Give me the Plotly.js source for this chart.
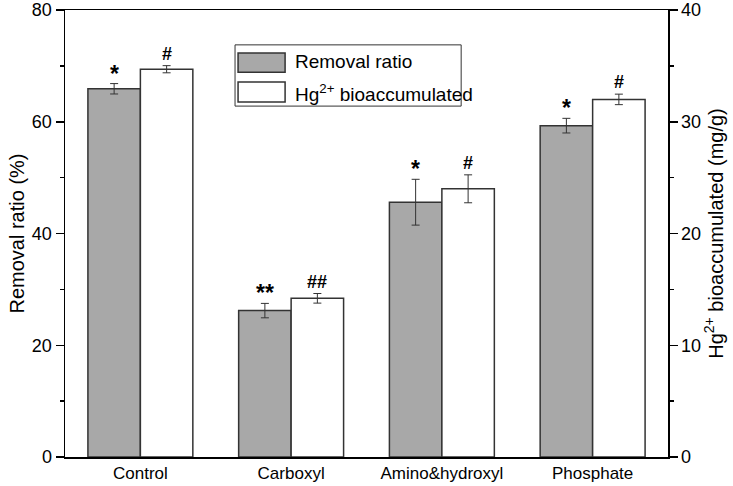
<!DOCTYPE html>
<html>
<head>
<meta charset="utf-8">
<script src="https://cdn.plot.ly/plotly-3.0.1.min.js"></script>
<style>html,body{margin:0;padding:0;background:#fff;}#chart{width:733px;height:486px;}</style>
</head>
<body>
<div id="chart"></div>
<script>
const categories = ['Control', 'Carboxyl', 'Amino&hydroxyl', 'Phosphate'];
const removalRatio = [65.9, 26.2, 45.6, 59.3];
const removalErr = [0.93, 1.29, 4.1, 1.31];
const hgBioacc = [34.7, 14.2, 24.0, 32.0];
const hgErr = [0.32, 0.43, 1.25, 0.47];
const removalSig = ['*', '**', '*', '*'];
const hgSig = ['#', '##', '#', '#'];
const seriesNames = ['Removal ratio', 'Hg<sup>2+</sup> bioaccumulated'];

const FONT = 'Liberation Sans, Arial, sans-serif';
const BW = 0.348;
const edge = {color: '#333', width: 1.5};

const traces = [
  {type: 'bar', x: categories, y: removalRatio, name: seriesNames[0], yaxis: 'y',
   width: BW, offset: -BW, marker: {color: '#a8a8a8', line: edge},
   error_y: {type: 'data', array: removalErr, visible: true, color: '#333', thickness: 1, width: 4}},
  {type: 'bar', x: categories, y: hgBioacc, name: seriesNames[1], yaxis: 'y2',
   width: BW, offset: 0, marker: {color: '#ffffff', line: edge},
   error_y: {type: 'data', array: hgErr, visible: true, color: '#333', thickness: 1, width: 4}}
];

const annotations = [];
categories.forEach((c, i) => {
  annotations.push({x: i - BW / 2, y: removalRatio[i] + removalErr[i], xref: 'x', yref: 'y',
    text: '<b>' + removalSig[i] + '</b>', showarrow: false, yanchor: 'bottom', yshift: -5,
    font: {family: FONT, size: 23, color: '#000'}});
  annotations.push({x: i + BW / 2, y: hgBioacc[i] + hgErr[i], xref: 'x', yref: 'y2',
    text: '<b>' + hgSig[i] + '</b>', showarrow: false, yanchor: 'bottom', yshift: 0,
    font: {family: FONT, size: 18, color: '#000'}});
});
// legend text
annotations.push({xref: 'paper', yref: 'paper', x: 0.378, y: 0.884, xanchor: 'left', yanchor: 'middle',
  text: seriesNames[0], showarrow: false, font: {family: FONT, size: 19, color: '#000'}});
annotations.push({xref: 'paper', yref: 'paper', x: 0.378, y: 0.815, xanchor: 'left', yanchor: 'middle',
  text: seriesNames[1], showarrow: false, font: {family: FONT, size: 19, color: '#000'}});

const shapes = [
  {type: 'rect', xref: 'paper', yref: 'paper', x0: 0.282, x1: 0.657, y0: 0.785, y1: 0.922,
   line: {color: '#333', width: 1}, fillcolor: 'rgba(255,255,255,1)', layer: 'above'},
  {type: 'rect', xref: 'paper', yref: 'paper', x0: 0.287, x1: 0.365, y0: 0.861, y1: 0.904,
   line: {color: '#333', width: 1.5}, fillcolor: '#a8a8a8', layer: 'above'},
  {type: 'rect', xref: 'paper', yref: 'paper', x0: 0.287, x1: 0.365, y0: 0.794, y1: 0.839,
   line: {color: '#333', width: 1.5}, fillcolor: '#ffffff', layer: 'above'}
];

const axisCommon = {
  showline: true, linecolor: '#000', linewidth: 1.5, showgrid: false, zeroline: false,
  ticks: 'outside', ticklen: 8, tickwidth: 1.5, tickcolor: '#000',
  tickfont: {family: FONT, size: 18, color: '#000'}
};

const layout = {
  width: 733, height: 486,
  margin: {l: 65, r: 65, t: 10, b: 29},
  paper_bgcolor: '#fff', plot_bgcolor: '#fff',
  showlegend: false,
  font: {family: FONT, color: '#000'},
  xaxis: {type: 'category', range: [-0.5, 3.5], showline: true, mirror: true, linecolor: '#000',
    linewidth: 1.5, ticks: '', showgrid: false, tickfont: {family: FONT, size: 17, color: '#000'}},
  yaxis: Object.assign({}, axisCommon, {range: [0, 80], dtick: 20,
    minor: {dtick: 10, ticks: 'outside', ticklen: 4, tickwidth: 1.5, tickcolor: '#000'},
    title: {text: 'Removal ratio (%)', font: {family: FONT, size: 20, color: '#000'}, standoff: 2}}),
  yaxis2: Object.assign({}, axisCommon, {range: [0, 40], dtick: 10, overlaying: 'y', side: 'right',
    minor: {dtick: 5, ticks: 'outside', ticklen: 4, tickwidth: 1.5, tickcolor: '#000'},
    title: {text: 'Hg<sup>2+</sup> bioaccumulated (mg/g)', font: {family: FONT, size: 20, color: '#000'}, standoff: 6}}),
  annotations: annotations,
  shapes: shapes
};

Plotly.newPlot('chart', traces, layout, {displayModeBar: false, staticPlot: true});
</script>
</body>
</html>
